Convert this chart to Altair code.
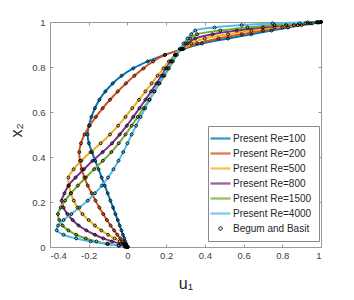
import altair as alt
import pandas as pd

# wall-normal coordinate x2 of the sampled points (shared by all curves)
Y_PTS = [0, 0.0015, 0.0062, 0.0138, 0.0245, 0.0381, 0.0545, 0.0737, 0.0955, 0.1198,
         0.1464, 0.1753, 0.2061, 0.2388, 0.2730, 0.3087, 0.3455, 0.3833, 0.4218, 0.4608,
         0.5, 0.5392, 0.5782, 0.6167, 0.6545, 0.6913, 0.7270, 0.7612, 0.7939, 0.8247,
         0.8536, 0.8802, 0.9045, 0.9263, 0.9455, 0.9619, 0.9755, 0.9862, 0.9938, 0.9985, 1.0]

U_RE100 = [0, -0.001, -0.003, -0.006, -0.011, -0.016, -0.023, -0.031, -0.040, -0.050,
           -0.062, -0.074, -0.088, -0.102, -0.117, -0.133, -0.149, -0.166, -0.183, -0.199,
           -0.206, -0.199, -0.186, -0.168, -0.145, -0.114, -0.076, -0.030, 0.030, 0.105,
           0.192, 0.290, 0.385, 0.520, 0.640, 0.745, 0.830, 0.900, 0.955, 0.990, 1.0]
U_RE200 = [0, -0.0015, -0.006, -0.013, -0.024, -0.037, -0.052, -0.069, -0.087, -0.106,
           -0.125, -0.145, -0.165, -0.185, -0.205, -0.222, -0.236, -0.245, -0.249, -0.240,
           -0.222, -0.195, -0.163, -0.128, -0.090, -0.050, -0.008, 0.036, 0.083, 0.133,
           0.195, 0.285, 0.360, 0.470, 0.590, 0.700, 0.800, 0.880, 0.945, 0.985, 1.0]
U_RE500 = [0, -0.003, -0.010, -0.022, -0.040, -0.066, -0.100, -0.135, -0.168, -0.200,
           -0.232, -0.258, -0.277, -0.292, -0.302, -0.305, -0.278, -0.238, -0.190, -0.138,
           -0.090, -0.048, -0.010, 0.025, 0.060, 0.093, 0.125, 0.156, 0.186, 0.214,
           0.245, 0.285, 0.330, 0.400, 0.520, 0.640, 0.760, 0.860, 0.935, 0.985, 1.0]
U_RE800 = [0, -0.004, -0.015, -0.034, -0.080, -0.125, -0.168, -0.212, -0.252, -0.283,
           -0.310, -0.330, -0.340, -0.325, -0.305, -0.268, -0.225, -0.180, -0.128, -0.080,
           -0.040, -0.003, 0.030, 0.062, 0.093, 0.122, 0.150, 0.176, 0.200, 0.224,
           0.248, 0.280, 0.310, 0.350, 0.440, 0.565, 0.700, 0.820, 0.920, 0.980, 1.0]
U_RE1500 = [0, -0.012, -0.045, -0.100, -0.160, -0.215, -0.265, -0.305, -0.335, -0.352,
            -0.359, -0.345, -0.322, -0.292, -0.256, -0.215, -0.172, -0.127, -0.083, -0.045,
            -0.010, 0.022, 0.053, 0.083, 0.112, 0.140, 0.166, 0.191, 0.214, 0.235,
            0.255, 0.275, 0.300, 0.325, 0.360, 0.480, 0.620, 0.760, 0.890, 0.975, 1.0]
U_RE4000 = [0, -0.012, -0.045, -0.105, -0.190, -0.265, -0.330, -0.365, -0.358, -0.330,
            -0.290, -0.248, -0.205, -0.168, -0.132, -0.100, -0.072, -0.046, -0.022, 0.000,
            0.022, 0.045, 0.068, 0.092, 0.115, 0.139, 0.162, 0.185, 0.207, 0.228,
            0.248, 0.270, 0.290, 0.310, 0.330, 0.350, 0.450, 0.590, 0.750, 0.930, 1.0]

SERIES = ["Present Re=100", "Present Re=200", "Present Re=500", "Present Re=800",
          "Present Re=1500", "Present Re=4000"]
REF_LABEL = "Begum and Basit"
LABELS = SERIES + [REF_LABEL]
COLORS = ["#0072BD", "#D95319", "#EDB120", "#7E2F8E", "#77AC30", "#4DBEEE", "#000000"]
LINE_SYM = "M-2,-0.1L2,-0.1M-2,0.1L2,0.1"
CIRCLE_SYM = "M0.35,0A0.35,0.35,0,1,1,-0.35,0A0.35,0.35,0,1,1,0.35,0Z"
SHAPES = [LINE_SYM] * 6 + [CIRCLE_SYM]
X_TICKS = [-0.4, -0.2, 0, 0.2, 0.4, 0.6, 0.8, 1]
Y_TICKS = [0, 0.2, 0.4, 0.6, 0.8, 1]

rows = []
for name, us in zip(SERIES, [U_RE100, U_RE200, U_RE500, U_RE800, U_RE1500, U_RE4000]):
    for i, (u, y) in enumerate(zip(us, Y_PTS)):
        rows.append({"series": name, "ref": REF_LABEL, "idx": i, "u": u, "y": y})
df = pd.DataFrame(rows)

W, H = 271, 225
FONT = "Liberation Sans"
GRID = "#999999"

legend = alt.Legend(orient="none", legendX=158, legendY=104, title=None,
                    symbolSize=100, symbolStrokeWidth=1, labelOffset=7, padding=7,
                    rowPadding=4, strokeColor="#888888", fillColor="white",
                    labelFont=FONT, labelFontSize=10, labelColor="#262626")
color_scale = alt.Scale(domain=LABELS, range=COLORS)
xs = alt.Scale(domain=[-0.4, 1], nice=False, zero=False)
ys = alt.Scale(domain=[0, 1], nice=False)

# main axes with labels (no ticks)
x_main = alt.Axis(values=X_TICKS, labelExpr="'' + datum.value", ticks=False, tickSize=0,
                  domain=False, grid=False, labelPadding=3, labelFont=FONT, labelFontSize=9.5,
                  labelColor="#404040", title="u₁", titleFont=FONT, titleFontSize=16,
                  titleFontWeight="normal", titleColor="#262626", titleBaseline="alphabetic",
                  titleY=41)
y_main = alt.Axis(values=Y_TICKS, labelExpr="'' + datum.value", ticks=False, tickSize=0,
                  domain=False, grid=False, labelPadding=5, labelFont=FONT, labelFontSize=9.5,
                  labelColor="#404040", title="x₂", titleFont=FONT, titleFontSize=16,
                  titleFontWeight="normal", titleColor="#262626", titleBaseline="alphabetic",
                  titleX=-29, titleY=108, titleAngle=270)

lines = alt.Chart(df).mark_line(strokeWidth=2, interpolate="catmull-rom").encode(
    x=alt.X("u:Q", scale=xs, axis=x_main),
    y=alt.Y("y:Q", scale=ys, axis=y_main),
    color=alt.Color("series:N", scale=color_scale, legend=legend),
    order=alt.Order("idx:Q"),
)

# inward ticks at bottom / left edges
tick_common = dict(labels=False, domain=False, grid=False, ticks=True, tickSize=3,
                   tickColor=GRID, tickWidth=1, title=None)
points = alt.Chart(df).mark_point(filled=False, size=73, strokeWidth=0.9, opacity=1).encode(
    x=alt.X("u:Q", scale=xs, axis=alt.Axis(orient="top", offset=-H, values=X_TICKS, **tick_common)),
    y=alt.Y("y:Q", scale=ys, axis=alt.Axis(orient="right", offset=-W, values=Y_TICKS, **tick_common)),
    color=alt.Color("ref:N", scale=color_scale, legend=legend),
    shape=alt.Shape("ref:N", scale=alt.Scale(domain=LABELS, range=SHAPES), legend=legend),
)

# inward ticks at top / right edges
ghost = alt.Chart(df).mark_point(opacity=0, size=1).encode(
    x=alt.X("u:Q", scale=xs, axis=alt.Axis(orient="bottom", offset=-H, values=X_TICKS, **tick_common)),
    y=alt.Y("y:Q", scale=ys, axis=alt.Axis(orient="left", offset=-W, values=Y_TICKS, **tick_common)),
)

chart = alt.layer(lines, points, ghost).resolve_axis(
    x="independent", y="independent"
).properties(
    width=W, height=H, autosize="none",
    padding={"left": 42, "top": 14, "right": 25, "bottom": 45},
).configure_view(stroke=GRID, strokeWidth=1)

chart.save("out.html", embed_options={"renderer": "svg", "actions": False})
